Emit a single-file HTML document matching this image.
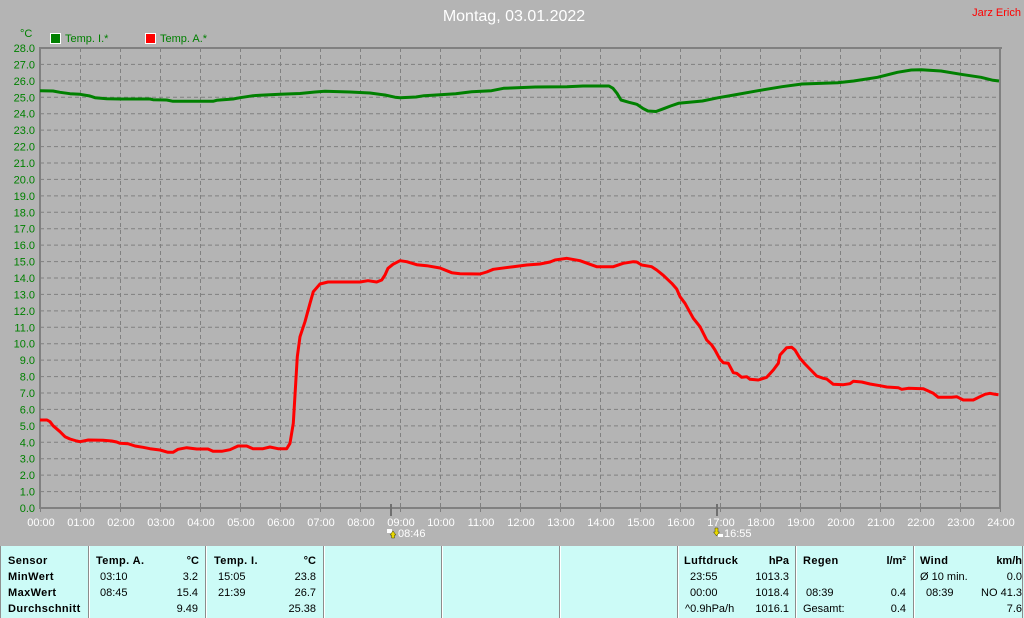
<!DOCTYPE html>
<html><head><meta charset="utf-8">
<style>
html,body{margin:0;padding:0;background:#b4b4b4;}
svg{display:block;}
text{font-family:"Liberation Sans",sans-serif;}
</style></head>
<body>
<svg width="1024" height="618" viewBox="0 0 1024 618" xmlns="http://www.w3.org/2000/svg">
<rect x="0" y="0" width="1024" height="618" fill="#b4b4b4"/>
<!-- title -->
<text x="514" y="21" font-size="16" fill="#ffffff" text-anchor="middle">Montag, 03.01.2022</text>
<text x="1021" y="16" font-size="11" fill="#ff0000" text-anchor="end">Jarz Erich</text>
<!-- legend -->
<text x="20" y="37" font-size="11" fill="#008000">°C</text>
<rect x="50.5" y="33.5" width="10" height="10" fill="#008000" stroke="#ffffff" stroke-width="1"/>
<text x="65" y="42" font-size="11" fill="#008000">Temp. I.*</text>
<rect x="145.5" y="33.5" width="10" height="10" fill="#ff0000" stroke="#ffffff" stroke-width="1"/>
<text x="160" y="42" font-size="11" fill="#008000">Temp. A.*</text>

<!-- grid -->
<g stroke="#808080" stroke-width="1" stroke-dasharray="4,3" fill="none">
<path d="M40,491.57H1000M40,475.14H1000M40,458.71H1000M40,442.29H1000M40,425.86H1000M40,409.43H1000M40,393H1000M40,376.57H1000M40,360.14H1000M40,343.71H1000M40,327.29H1000M40,310.86H1000M40,294.43H1000M40,278H1000M40,261.57H1000M40,245.14H1000M40,228.71H1000M40,212.29H1000M40,195.86H1000M40,179.43H1000M40,163H1000M40,146.57H1000M40,130.14H1000M40,113.71H1000M40,97.29H1000M40,80.86H1000M40,64.43H1000"/>
<path d="M80.5,48V508M120.5,48V508M160.5,48V508M200.5,48V508M240.5,48V508M280.5,48V508M320.5,48V508M360.5,48V508M400.5,48V508M440.5,48V508M480.5,48V508M520.5,48V508M560.5,48V508M600.5,48V508M640.5,48V508M680.5,48V508M720.5,48V508M760.5,48V508M800.5,48V508M840.5,48V508M880.5,48V508M920.5,48V508M960.5,48V508"/>
</g>
<!-- axes / border -->
<g fill="#808080">
<rect x="39" y="47" width="963" height="2"/>
<rect x="999" y="47" width="2" height="462"/>
<rect x="39" y="47" width="2" height="462"/>
<rect x="39" y="507" width="962" height="2"/>
</g>
<g stroke="#808080" stroke-width="1">
<path d="M40.5,509V512M80.5,509V512M120.5,509V512M160.5,509V512M200.5,509V512M240.5,509V512M280.5,509V512M320.5,509V512M360.5,509V512M400.5,509V512M440.5,509V512M480.5,509V512M520.5,509V512M560.5,509V512M600.5,509V512M640.5,509V512M680.5,509V512M720.5,509V512M760.5,509V512M800.5,509V512M840.5,509V512M880.5,509V512M920.5,509V512M960.5,509V512M1000.5,509V512"/>
</g>
<rect x="390" y="504" width="2" height="12" fill="#707070"/>
<rect x="716" y="504" width="2" height="12" fill="#707070"/>

<!-- y labels -->
<g font-size="11" fill="#008000" text-anchor="end">
<text x="35" y="512">0.0</text><text x="35" y="495.6">1.0</text><text x="35" y="479.1">2.0</text><text x="35" y="462.7">3.0</text><text x="35" y="446.3">4.0</text><text x="35" y="429.9">5.0</text><text x="35" y="413.4">6.0</text><text x="35" y="397">7.0</text><text x="35" y="380.6">8.0</text><text x="35" y="364.1">9.0</text><text x="35" y="347.7">10.0</text><text x="35" y="331.3">11.0</text><text x="35" y="314.9">12.0</text><text x="35" y="298.4">13.0</text><text x="35" y="282">14.0</text><text x="35" y="265.6">15.0</text><text x="35" y="249.1">16.0</text><text x="35" y="232.7">17.0</text><text x="35" y="216.3">18.0</text><text x="35" y="199.9">19.0</text><text x="35" y="183.4">20.0</text><text x="35" y="167">21.0</text><text x="35" y="150.6">22.0</text><text x="35" y="134.1">23.0</text><text x="35" y="117.7">24.0</text><text x="35" y="101.3">25.0</text><text x="35" y="84.9">26.0</text><text x="35" y="68.4">27.0</text><text x="35" y="52">28.0</text>
</g>
<!-- x labels -->
<g font-size="11" fill="#ffffff" text-anchor="middle">
<text x="41" y="526">00:00</text><text x="81" y="526">01:00</text><text x="121" y="526">02:00</text><text x="161" y="526">03:00</text><text x="201" y="526">04:00</text><text x="241" y="526">05:00</text><text x="281" y="526">06:00</text><text x="321" y="526">07:00</text><text x="361" y="526">08:00</text><text x="401" y="526">09:00</text><text x="441" y="526">10:00</text><text x="481" y="526">11:00</text><text x="521" y="526">12:00</text><text x="561" y="526">13:00</text><text x="601" y="526">14:00</text><text x="641" y="526">15:00</text><text x="681" y="526">16:00</text><text x="721" y="526">17:00</text><text x="761" y="526">18:00</text><text x="801" y="526">19:00</text><text x="841" y="526">20:00</text><text x="881" y="526">21:00</text><text x="921" y="526">22:00</text><text x="961" y="526">23:00</text><text x="1001" y="526">24:00</text>
</g>
<!-- sunrise / sunset markers -->
<g>
<rect x="387" y="529" width="5" height="4" fill="#ffffff"/>
<path d="M393,531 L396,535 L394.5,535 L394.5,538 L391.5,538 L391.5,535 L390,535 Z" fill="#e8d800" stroke="#404000" stroke-width="0.5"/>
<text x="398" y="537" font-size="11" fill="#ffffff">08:46</text>
<path d="M715,528 L718,528 L718,532 L719.5,532 L716.5,536 L713.5,532 L715,532 Z" fill="#e8d800" stroke="#404000" stroke-width="0.5"/>
<rect x="718" y="534" width="5" height="3" fill="#ffffff"/>
<text x="724" y="537" font-size="11" fill="#ffffff">16:55</text>
</g>

<!-- series -->
<polyline fill="none" stroke="#008000" stroke-width="3" stroke-linejoin="round" points="40,90.7 53,91 60,92.3 70,93.7 80,94.3 90,96 95,97.7 106.7,98.7 120,99 150,99 153,99.7 166.7,100 173,101.3 213,101.3 216.7,100.3 233,99 240,97.7 246.7,96.7 253,95.7 260,95.3 280,94.3 300,93.5 315,92 325,91.3 350,92 370,93 385,95 395,97.2 400,97.7 416,97 424,95.7 440,94.7 455.7,93.7 471.6,91.7 491.5,90.7 503.5,88.3 535.3,87 567,86.7 583,86 609,86 613,88.3 617,93.3 621,100 629,102.3 636.8,104.3 642.7,108.3 648,111 656,111.5 664.6,108.3 670.6,106 678.5,103.3 702.4,101 718.4,97.7 734,95 758,90.7 782,86.7 802,84 837.7,82.7 853.6,81 877.5,77.3 897.4,72.3 911.3,70 921.3,69.7 941,71 961,74.3 981,77.3 993,80.3 999,81"/>
<polyline fill="none" stroke="#ff0000" stroke-width="3" stroke-linejoin="round" points="40,420 47,420 50,421.7 53,425.7 60,431.7 65,436.7 70,439 76.7,441 80,441.7 88.3,440 103,440.3 111.7,441 116.7,442 120,443.3 128,443.7 135,446 143,447.3 150,448.7 160,450 168,452.3 173,452.3 178,449.3 186.7,447.7 196.7,449 208,449 213,451.3 221.7,451.3 230,449.7 238,446 246.7,446 253,448.7 263,448.7 270,447 278,448.7 286.7,448.7 290,443.3 293.3,423.3 295.7,383.3 297.3,356.7 300,336.7 305,321.7 310,303.3 313.3,291.7 320,284 328,282 360,282 368,280.7 376.7,282 381.7,280 385,275 388,268.3 393,264.3 400,260.7 406.7,261.7 416.7,264.7 426.7,265.7 440,268 451.7,272.7 460,273.7 480,274 486.7,272 493.3,269.3 513.3,266.7 526.7,265 540,264 550,262 555,260 566.7,258.3 580,260.7 590,264.3 596.7,266.7 613.3,266.7 623.3,263.3 633.3,261.7 636.7,262 641.7,265 651.7,266.7 656.7,270 663.3,275.3 671.7,283.3 676.7,289 680,296.7 685,303.3 693.3,318.3 700,326.7 706.7,340 711.7,345 715,350 720,359.3 723.3,362.7 728.3,363.3 733.3,372.7 736.7,373.3 741.7,377.3 746.7,376.7 750,379.3 758.3,380 766.7,377.3 773.3,370 778.3,363.3 780,355 786.7,347.7 791.7,347.3 795,350 800,358.3 805,364 816.7,376 823.3,378.3 826.7,379 833.3,384.3 843.3,384.7 850,383.7 853.3,381.3 861.7,382 870,384 880,385.7 886.7,387 898.3,387.7 901.7,389.3 908.3,388.3 923.3,388.7 928.3,391 933.3,393.3 938.3,397.3 951.7,397.3 956.7,396.7 963.3,400 973.3,400 980,396.7 985,394.3 990,393.3 995,394.3 998.5,394.7"/>

<!-- footer -->
<rect x="1" y="546" width="1023" height="72" fill="#ccfbf7"/>
<rect x="0" y="546" width="1" height="72" fill="#909090"/>
<g fill="#8c8c8c">
<rect x="88" y="546" width="1" height="72"/><rect x="205" y="546" width="1" height="72"/><rect x="323" y="546" width="1" height="72"/><rect x="441" y="546" width="1" height="72"/><rect x="559" y="546" width="1" height="72"/><rect x="677" y="546" width="1" height="72"/><rect x="795" y="546" width="1" height="72"/><rect x="913" y="546" width="1" height="72"/><rect x="1022" y="546" width="1" height="72"/>
</g>
<g fill="#ffffff">
<rect x="89" y="546" width="1" height="72"/><rect x="206" y="546" width="1" height="72"/><rect x="324" y="546" width="1" height="72"/><rect x="442" y="546" width="1" height="72"/><rect x="560" y="546" width="1" height="72"/><rect x="678" y="546" width="1" height="72"/><rect x="796" y="546" width="1" height="72"/><rect x="914" y="546" width="1" height="72"/>
</g>
<g font-size="11" fill="#000000">
<g font-weight="bold" letter-spacing="0.4">
<text x="8" y="564">Sensor</text>
<text x="8" y="580">MinWert</text>
<text x="8" y="596">MaxWert</text>
<text x="8" y="612">Durchschnitt</text>
<text x="96" y="564">Temp. A.</text>
<text x="214" y="564">Temp. I.</text>
<text x="684" y="564">Luftdruck</text>
<text x="803" y="564">Regen</text>
<text x="920" y="564">Wind</text>
</g>
<g font-weight="bold" text-anchor="end">
<text x="199" y="564">°C</text>
<text x="316" y="564">°C</text>
<text x="789" y="564">hPa</text>
<text x="906" y="564">l/m²</text>
<text x="1022" y="564">km/h</text>
</g>
<text x="100" y="580">03:10</text>
<text x="100" y="596">08:45</text>
<text x="218" y="580">15:05</text>
<text x="218" y="596">21:39</text>
<text x="690" y="580">23:55</text>
<text x="690" y="596">00:00</text>
<text x="685" y="612">^0.9hPa/h</text>
<text x="806" y="596">08:39</text>
<text x="803" y="612">Gesamt:</text>
<text x="920" y="580">Ø 10 min.</text>
<text x="926" y="596">08:39</text>
<g text-anchor="end">
<text x="198" y="580">3.2</text>
<text x="198" y="596">15.4</text>
<text x="198" y="612">9.49</text>
<text x="316" y="580">23.8</text>
<text x="316" y="596">26.7</text>
<text x="316" y="612">25.38</text>
<text x="789" y="580">1013.3</text>
<text x="789" y="596">1018.4</text>
<text x="789" y="612">1016.1</text>
<text x="906" y="596">0.4</text>
<text x="906" y="612">0.4</text>
<text x="1022" y="580">0.0</text>
<text x="1022" y="596">NO 41.3</text>
<text x="1022" y="612">7.6</text>
</g>
</g>
</svg>
</body></html>
